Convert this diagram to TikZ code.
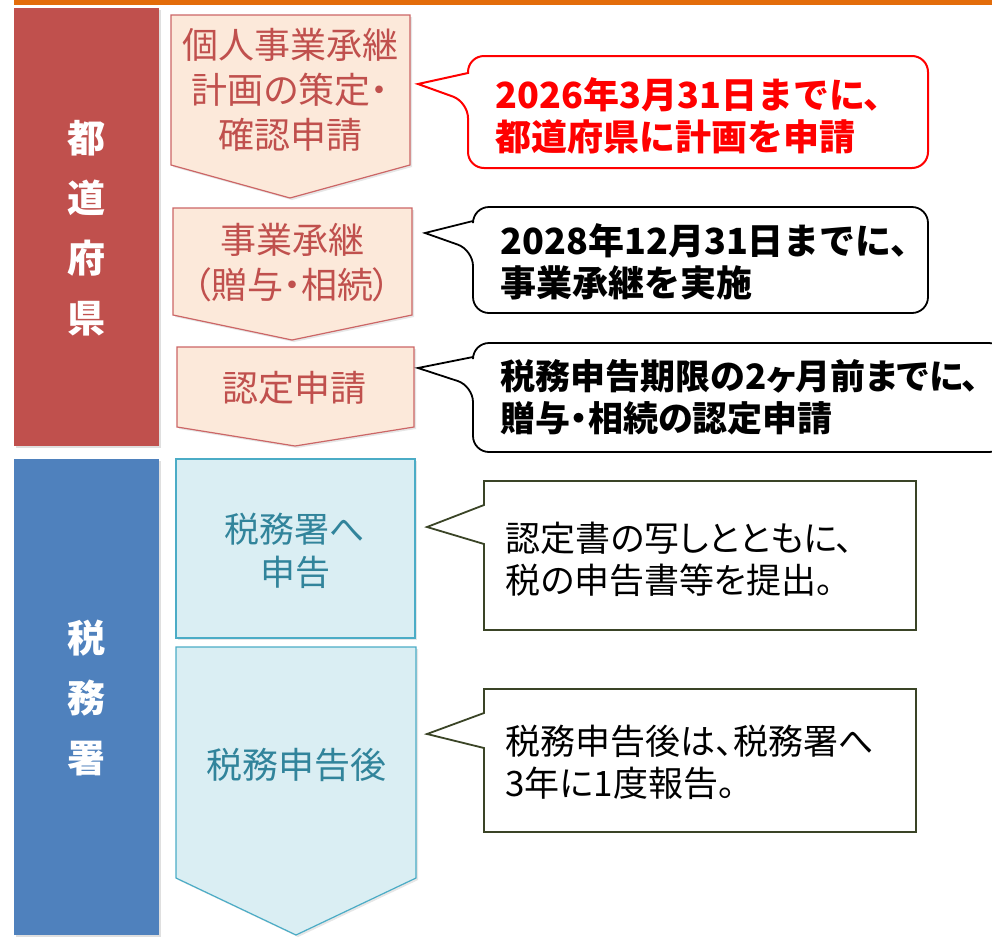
\documentclass[tikz,border=0pt]{standalone}
\usepackage{fontspec}
\setmainfont{Noto Sans CJK JP}[RawFeature=+palt]
\newfontfamily\jpfull{Noto Sans CJK JP}
\usetikzlibrary{shadows}
\definecolor{topline}{HTML}{E36C0A}
\definecolor{redbox}{HTML}{C0504D}
\definecolor{bluebox}{HTML}{4F81BD}
\definecolor{pfill}{HTML}{FCE9DA}
\definecolor{pline}{HTML}{CC6666}
\definecolor{ptext}{HTML}{C0504D}
\definecolor{bfill}{HTML}{DAEEF3}
\definecolor{bline}{HTML}{4BACC6}
\definecolor{btext}{HTML}{31849B}
\definecolor{olive}{HTML}{3A4426}
\definecolor{calred}{HTML}{FF0000}
\tikzset{
  sidebox/.style={draw=none, drop shadow={shadow xshift=2pt, shadow yshift=-2pt, opacity=0.25}},
  redstep/.style={fill=pfill, draw=pline, line width=1.2pt, line join=miter, drop shadow={shadow xshift=2pt, shadow yshift=-2pt, opacity=0.2}},
  bluestep/.style={fill=bfill, draw=bline, line width=1.2pt, line join=miter, drop shadow={shadow xshift=2pt, shadow yshift=-2pt, opacity=0.2}},
  sidetext/.style={text=white, font=\fontsize{38}{60}\selectfont\bfseries, align=center},
  steptext/.style={font=\fontsize{36}{45}\selectfont, align=center},
  boldcall/.style={anchor=west, align=left, font=\fontsize{35}{42}\selectfont\bfseries},
  widecall/.style={anchor=west, align=left, font=\jpfull\fontsize{36}{42}\selectfont\bfseries},
  normcall/.style={anchor=west, align=left, font=\fontsize{35}{42}\selectfont},
}
\begin{document}
\begin{tikzpicture}[x=1pt, y=-1pt]
\useasboundingbox (0,0) rectangle (992,948);
% top orange line
\fill[topline] (14,0) rectangle (992,5);
% side boxes
\fill[redbox, sidebox] (14,8) rectangle (159,446);
\fill[bluebox, sidebox] (14,459) rectangle (159,935);
\node[sidetext] (todofuken) at (86,228) {都\\道\\府\\県};
\node[sidetext] (zeimusho) at (86,698) {税\\務\\署};
% red steps
\draw[redstep] (171,15) -- (410,15) -- (410,165) -- (290,198) -- (171,165) -- cycle;
\draw[redstep] (173,208) -- (412,208) -- (412,315) -- (292,340) -- (173,315) -- cycle;
\draw[redstep] (177,347) -- (414,347) -- (414,427) -- (295,446) -- (177,427) -- cycle;
\node[steptext, text=ptext] (s1) at (290,90) {個人事業承継\\計画の策定・\\確認申請};
\node[steptext, text=ptext] (s2) at (292,263) {事業承継\\（贈与・相続）};
\node[steptext, text=ptext] (s3) at (294,388) {認定申請};
% blue steps
\draw[bluestep] (176,459) rectangle (415,638);
\draw[bluestep] (176,647) -- (416,647) -- (416,878) -- (296,935) -- (176,878) -- cycle;
\node[steptext, text=btext, font=\fontsize{35}{43}\selectfont] (s4) at (295,551) {税務署へ\\申告};
\node[steptext, text=btext] (s5) at (296,765) {税務申告後};
% callouts
\draw[calred, line width=2pt, fill=white, rounded corners=16pt]
  (468,102) [sharp corners]-- (418,84) -- (468,73) [rounded corners=16pt]-- (468,56) -- (928,56) -- (928,168) -- (468,168) -- cycle;
\node[widecall, text=calred] (c1) at (492,116) {2026年3月31日までに、\\都道府県に計画を申請};
\draw[black, line width=1.8pt, fill=white, rounded corners=16pt]
  (473,250) [sharp corners]-- (425,233) -- (473,221) [rounded corners=16pt]-- (473,207) -- (928,207) -- (928,313) -- (473,313) -- cycle;
\node[widecall] (c2) at (497,262) {2028年12月31日までに、\\事業承継を実施};
\draw[black, line width=1.8pt, fill=white, rounded corners=16pt]
  (473,386) [sharp corners]-- (418,368) -- (473,357) [rounded corners=16pt]-- (473,343) -- (1005,343) -- (1005,452) -- (473,452) -- cycle;
\node[boldcall] (c3) at (497,397) {税務申告期限の2ヶ月前までに、\\贈与・相続の認定申請};
\draw[olive, line width=1.8pt, fill=white]
  (484,544) -- (427,527) -- (484,505) -- (484,481) -- (916,481) -- (916,630) -- (484,630) -- cycle;
\node[normcall] (c4) at (502,559) {認定書の写しとともに、\\税の申告書等を提出。};
\draw[olive, line width=1.8pt, fill=white]
  (484,748) -- (427,734) -- (484,713) -- (484,689) -- (916,689) -- (916,832) -- (484,832) -- cycle;
\node[normcall] (c5) at (502,762) {税務申告後は、税務署へ\\3年に1度報告。};
\end{tikzpicture}
\end{document}
